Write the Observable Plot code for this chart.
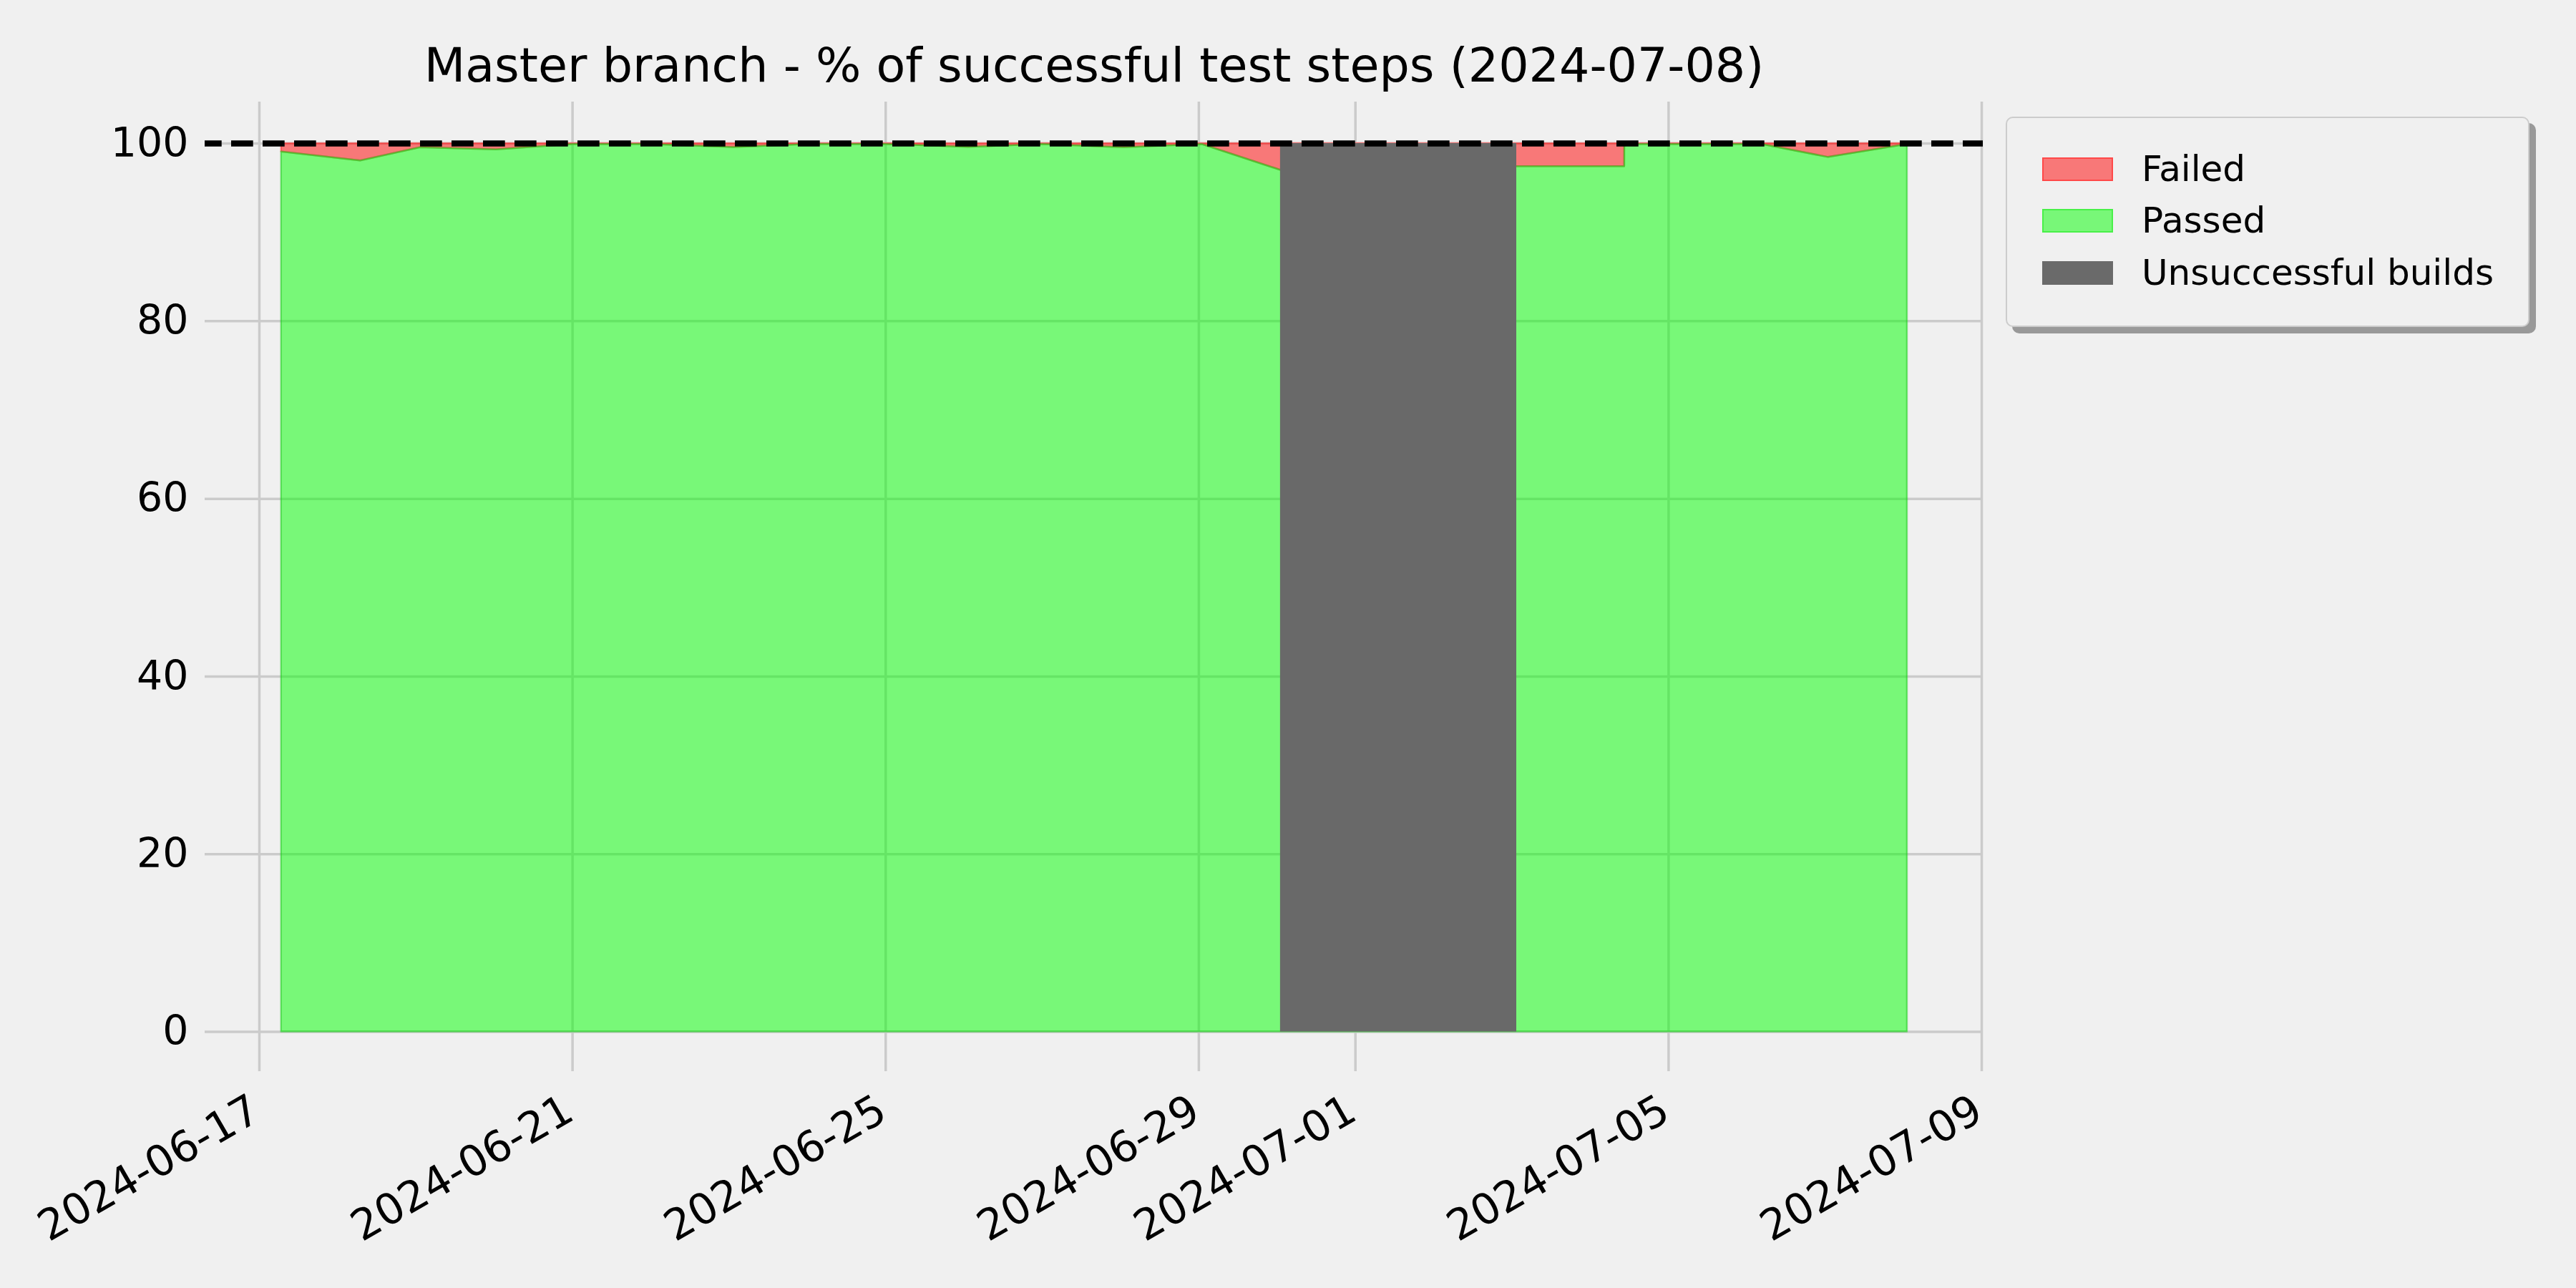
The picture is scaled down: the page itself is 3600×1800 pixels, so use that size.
<!DOCTYPE html>
<html>
<head>
<meta charset="utf-8">
<script src="https://cdn.jsdelivr.net/npm/d3@7"></script>
<script src="https://cdn.jsdelivr.net/npm/@observablehq/plot@0.6"></script>
<style>
  html, body { margin: 0; padding: 0; background: #f0f0f0; }
  #wrap { position: relative; width: 3600px; height: 1800px; background: #f0f0f0; font-family: "DejaVu Sans", sans-serif; }
  #legend { position: absolute; left: 2803px; top: 163px; width: 728px; height: 290px;
            background: #f0f0f0; border: 2px solid #cccccc; border-radius: 10px;
            box-shadow: 9px 9px 0 #999999; }
  .row { position: absolute; left: 49px; height: 36px; display: flex; align-items: center; }
  .sw { width: 99px; height: 33px; box-sizing: border-box; }
  .lab { margin-left: 40px; font-size: 50px; color: #000; white-space: nowrap; line-height: 36px; }
</style>
</head>
<body>
<div id="wrap"></div>
<script>
// ---- data ----
const titleText = "Master branch - % of successful test steps (2024-07-08)";
const buildTimes = [
  "2024-06-17T06:45Z","2024-06-18T07:00Z","2024-06-19T01:20Z","2024-06-20T00:35Z",
  "2024-06-21T00:05Z","2024-06-22T00:00Z","2024-06-23T01:30Z","2024-06-24T00:00Z",
  "2024-06-25T00:05Z","2024-06-26T01:25Z","2024-06-27T00:00Z","2024-06-28T01:00Z",
  "2024-06-29T01:00Z","2024-06-30T01:00Z","2024-07-03T01:25Z","2024-07-04T10:30Z",
  "2024-07-04T10:31Z","2024-07-05T00:00Z","2024-07-06T04:40Z","2024-07-07T01:00Z",
  "2024-07-08T01:10Z"
];
const passedPct = [
  99.06, 98.04, 99.54, 99.3,
  99.9, 99.9, 99.55, 99.9,
  99.9, 99.57, 99.9, 99.54,
  99.9, 97.0, 97.4, 97.4,
  99.9, 99.9, 99.9, 98.44,
  99.9
];
const unsuccessfulStart = ["2024-06-30T01:00Z"];
const unsuccessfulEnd = ["2024-07-03T01:25Z"];
const xTicks = ["2024-06-17","2024-06-21","2024-06-25","2024-06-29","2024-07-01","2024-07-05","2024-07-09"];
const yTicks = [0, 20, 40, 60, 80, 100];
const legendLabels = ["Failed", "Passed", "Unsuccessful builds"];

// ---- build tables ----
const rows = buildTimes.map((t, i) => ({ date: new Date(t), passed: passedPct[i] }));
const gaps = unsuccessfulStart.map((s, i) => ({ start: new Date(s), end: new Date(unsuccessfulEnd[i]) }));
const xTickDates = xTicks.map(d => new Date(d + "T00:00Z"));
const fmt = d3.utcFormat("%Y-%m-%d");

const grid = "#cbcbcb";
const chart = Plot.plot({
  width: 3600,
  height: 1800,
  marginLeft: 286,
  marginRight: 829,
  marginTop: 142,
  marginBottom: 303,
  style: { background: "#f0f0f0", fontFamily: "DejaVu Sans, sans-serif", color: "black", overflow: "visible" },
  x: { type: "utc", domain: [new Date("2024-06-16T07:20Z"), new Date("2024-07-09T00:26Z")], axis: null },
  y: { domain: [-4.46, 104.67], axis: null },
  marks: [
    Plot.gridY(yTicks, { stroke: grid, strokeOpacity: 1, strokeWidth: 3.5 }),
    Plot.gridX(xTickDates, { stroke: grid, strokeOpacity: 1, strokeWidth: 3.5 }),
    Plot.areaY(rows, { x: "date", y1: "passed", y2: 100, fill: "#ff0000", fillOpacity: 0.5,
                       stroke: "#ff2020", strokeOpacity: 0.5, strokeWidth: 2.5 }),
    Plot.areaY(rows, { x: "date", y1: 0, y2: "passed", fill: "#00ff00", fillOpacity: 0.5,
                       stroke: "#22cc22", strokeOpacity: 0.55, strokeWidth: 2.5 }),
    Plot.rectY(gaps, { x1: "start", x2: "end", y1: 0, y2: 100, fill: "#696969" }),
    Plot.ruleY([100], { stroke: "black", strokeWidth: 8.3, strokeDasharray: "30.7,13.3", strokeDashoffset: 7 }),
    Plot.text(yTicks, { y: d => d, text: d => String(d), frameAnchor: "left", dx: -23,
                        textAnchor: "end", fontSize: 57, fill: "black" }),
    Plot.text(xTickDates, { x: d => d, text: d => fmt(d), frameAnchor: "bottom", rotate: -30,
                            textAnchor: "end", lineAnchor: "top", dx: -16, dy: 29, fontSize: 59.5, fill: "black" }),
    Plot.text([titleText], { frameAnchor: "top", lineAnchor: "bottom", dy: -29, fontSize: 66.7, fill: "black" })
  ]
});

const wrap = document.getElementById("wrap");
wrap.appendChild(chart);

// ---- legend ----
const legend = document.createElement("div");
legend.id = "legend";
const swatchStyles = [
  "background:#f87878;border:2px solid #ff4848;",
  "background:#78f778;border:2px solid #48f048;",
  "background:#6a6a6a;"
];
const rowTops = [53, 125, 198];
legendLabels.forEach((lab, i) => {
  const r = document.createElement("div");
  r.className = "row";
  r.style.top = rowTops[i] + "px";
  r.innerHTML = `<div class="sw" style="${swatchStyles[i]}"></div><div class="lab">${lab}</div>`;
  legend.appendChild(r);
});
wrap.appendChild(legend);
</script>
</body>
</html>
